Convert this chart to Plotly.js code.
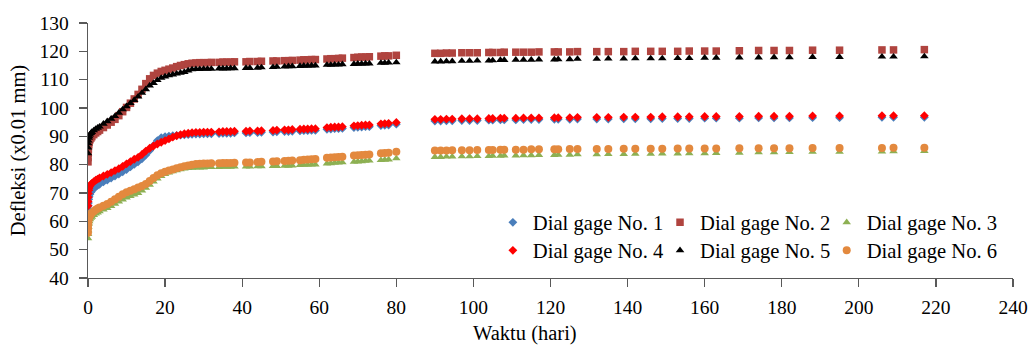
<!DOCTYPE html>
<html>
<head>
<meta charset="utf-8">
<script src="https://cdn.plot.ly/plotly-3.0.1.min.js"></script>
<style>
  html, body { margin: 0; padding: 0; background: #fff; }
  #chart { width: 1032px; height: 345px; }
</style>
</head>
<body>
<div id="chart"></div>
<script>
// Time (days)
const days = [
  0, 0.02, 0.05, 0.1, 0.2, 0.3, 0.5, 0.75, 1, 1.5, 2, 2.5, 3, 4, 5, 6, 7, 8, 9, 10, 11, 12, 13, 14, 15, 16, 17, 18, 19, 20, 21, 22, 23, 24, 25, 26,
  27, 28, 29, 30, 31, 32, 34, 35, 36, 37, 38, 41, 42, 44, 45, 48, 49, 51, 52, 53, 55, 56, 57, 58, 59, 62, 63, 64, 65, 66, 69, 70, 71, 72, 73, 76, 77, 78, 80,
  90, 91.5, 93, 94.5, 97, 99, 101, 104, 105, 107, 108, 111, 113, 115, 117, 121, 122, 125, 127, 132, 135, 139, 142, 146, 149, 153, 156, 160, 163, 169, 174, 178, 182, 188, 195, 206, 209, 217
];

const dial1 = [
  63.5, 64.5, 65.5, 66.5, 67.8, 68.7, 69.6, 70.3, 70.8, 71.6, 72.2, 72.7, 73.1, 73.9, 74.6, 75.3, 76, 76.7, 77.5, 78.3, 79.2, 80.1, 81, 82.1, 83.4, 85, 86.8, 88.5, 89.5, 89.9, 90.1, 90.2, 90.3, 90.4, 90.5, 90.6,
  90.7, 90.8, 90.8, 90.9, 90.9, 90.9, 91, 91.1, 91.1, 91.1, 91.2, 91.2, 91.3, 91.3, 91.4, 91.5, 91.6, 91.7, 91.7, 91.8, 91.9, 92, 92, 92.1, 92.1, 92.5, 92.6, 92.7, 92.7, 92.8, 93.1, 93.2, 93.3, 93.4, 93.4, 93.8, 93.9, 94, 94.3,
  95.4, 95.4, 95.5, 95.5, 95.6, 95.6, 95.6, 95.7, 95.7, 95.8, 95.8, 95.8, 95.9, 95.9, 95.9, 96, 96, 96, 96.1, 96.1, 96.1, 96.2, 96.2, 96.2, 96.3, 96.3, 96.3, 96.4, 96.4, 96.4, 96.5, 96.5, 96.5, 96.6, 96.6, 96.7, 96.7, 96.7
];

const dial2 = [
  81, 82.5, 84, 85.5, 87, 88, 88.8, 89.4, 89.9, 90.6, 91.2, 91.7, 92.2, 93.1, 94, 95, 96, 97.3, 98.7, 100.2, 101.7, 103.2, 104.8, 106.6, 108.6, 110.3, 111.5, 112.3, 112.9, 113.3, 113.7, 114.1, 114.6, 115, 115.3, 115.6,
  115.8, 115.9, 116, 116, 116, 116.1, 116.1, 116.2, 116.2, 116.2, 116.3, 116.3, 116.4, 116.4, 116.5, 116.6, 116.6, 116.7, 116.7, 116.8, 116.9, 117, 117, 117.1, 117.1, 117.3, 117.4, 117.4, 117.5, 117.6, 117.8, 117.9, 118, 118, 118.1, 118.3, 118.4, 118.4, 118.6,
  119.3, 119.3, 119.4, 119.4, 119.5, 119.5, 119.5, 119.6, 119.6, 119.6, 119.7, 119.7, 119.7, 119.7, 119.8, 119.8, 119.8, 119.8, 119.9, 119.9, 119.9, 119.9, 120, 120, 120, 120, 120.1, 120.1, 120.1, 120.2, 120.3, 120.3, 120.3, 120.4, 120.4, 120.5, 120.5, 120.6
];

const dial3 = [
  54, 55.5, 56.8, 58, 59.2, 60, 60.7, 61.2, 61.6, 62.2, 62.7, 63.1, 63.5, 64.1, 64.7, 65.4, 66.2, 67, 67.7, 68.4, 68.9, 69.4, 70, 70.8, 71.8, 72.9, 74, 75.1, 76, 76.7, 77.2, 77.6, 78, 78.3, 78.6, 78.8,
  78.9, 79, 79, 79, 79.1, 79.1, 79.1, 79.2, 79.2, 79.2, 79.3, 79.3, 79.3, 79.4, 79.4, 79.5, 79.5, 79.6, 79.6, 79.7, 79.8, 79.9, 79.9, 80, 80, 80.4, 80.5, 80.6, 80.7, 80.8, 81, 81.1, 81.2, 81.3, 81.4, 81.6, 81.7, 81.8, 82.2,
  82.7, 82.7, 82.8, 82.8, 82.9, 82.9, 83, 83, 83.1, 83.1, 83.2, 83.2, 83.3, 83.3, 83.4, 83.4, 83.5, 83.5, 83.6, 83.6, 83.7, 83.7, 83.8, 83.8, 83.9, 83.9, 84, 84, 84.1, 84.2, 84.3, 84.3, 84.4, 84.5, 84.5, 84.6, 84.7, 84.8
];

const dial4 = [
  65.5, 67, 68.5, 69.8, 71, 71.8, 72.5, 73, 73.4, 74, 74.5, 74.9, 75.3, 76, 76.6, 77.2, 77.9, 78.6, 79.4, 80.3, 81.1, 81.9, 82.6, 83.6, 84.8, 85.8, 86.6, 87.3, 87.9, 88.5, 89.1, 89.7, 90.2, 90.6, 90.9, 91.1,
  91.3, 91.4, 91.4, 91.5, 91.5, 91.5, 91.6, 91.7, 91.7, 91.7, 91.8, 91.8, 91.9, 91.9, 92, 92.1, 92.2, 92.3, 92.3, 92.4, 92.5, 92.6, 92.6, 92.7, 92.7, 93.1, 93.2, 93.3, 93.3, 93.4, 93.7, 93.8, 93.9, 94, 94, 94.4, 94.5, 94.6, 94.9,
  96, 96, 96.1, 96.1, 96.2, 96.2, 96.2, 96.3, 96.3, 96.4, 96.4, 96.4, 96.5, 96.5, 96.5, 96.6, 96.6, 96.6, 96.7, 96.7, 96.7, 96.8, 96.8, 96.8, 96.9, 96.9, 96.9, 97, 97, 97, 97.1, 97.1, 97.1, 97.2, 97.2, 97.3, 97.3, 97.3
];

const dial5 = [
  84, 86, 87.5, 88.5, 89.5, 90, 90.6, 91.1, 91.5, 92.1, 92.6, 93, 93.4, 94.4, 95.3, 96.2, 97.1, 98.3, 99.5, 100.6, 101.7, 102.8, 104, 105.3, 106.6, 107.9, 108.8, 109.8, 110.6, 111.1, 111.5, 111.8, 112.1, 112.4, 112.7, 113.2,
  113.6, 113.7, 113.7, 113.8, 113.8, 113.8, 113.9, 113.9, 113.9, 114, 114, 114.1, 114.1, 114.2, 114.3, 114.4, 114.5, 114.6, 114.7, 114.7, 114.8, 114.9, 114.9, 115, 115, 115.2, 115.2, 115.3, 115.3, 115.4, 115.5, 115.6, 115.6, 115.7, 115.7, 115.9, 115.9, 116, 116.1,
  116.4, 116.4, 116.5, 116.5, 116.6, 116.6, 116.7, 116.7, 116.8, 116.9, 116.9, 117, 117, 117, 117.1, 117.1, 117.2, 117.2, 117.3, 117.3, 117.4, 117.4, 117.5, 117.5, 117.5, 117.6, 117.6, 117.7, 117.7, 117.8, 117.8, 117.9, 117.9, 118, 118, 118.1, 118.1, 118.2
];

const dial6 = [
  56, 57.5, 58.8, 59.8, 60.8, 61.5, 62.1, 62.6, 63, 63.6, 64.1, 64.5, 64.9, 65.5, 66.1, 66.9, 67.8, 68.7, 69.6, 70.3, 70.8, 71.3, 71.9, 72.5, 73.2, 74.2, 75.3, 76.3, 77, 77.5, 77.9, 78.3, 78.7, 79.1, 79.4, 79.7,
  80, 80.2, 80.3, 80.4, 80.4, 80.5, 80.5, 80.6, 80.6, 80.6, 80.7, 80.8, 80.8, 80.9, 81, 81.1, 81.2, 81.3, 81.4, 81.5, 81.6, 81.7, 81.8, 81.9, 82, 82.4, 82.5, 82.6, 82.7, 82.8, 83.2, 83.3, 83.4, 83.5, 83.6, 84, 84.1, 84.2, 84.6,
  85, 85, 85, 85.1, 85.1, 85.1, 85.2, 85.2, 85.2, 85.3, 85.3, 85.3, 85.3, 85.4, 85.4, 85.4, 85.4, 85.5, 85.5, 85.5, 85.5, 85.6, 85.6, 85.6, 85.6, 85.7, 85.7, 85.7, 85.7, 85.8, 85.8, 85.8, 85.8, 85.9, 85.9, 85.9, 86, 86
];

const seriesNames = ['Dial gage No. 1', 'Dial gage No. 2', 'Dial gage No. 3', 'Dial gage No. 4', 'Dial gage No. 5', 'Dial gage No. 6'];
const seriesValues = [dial1, dial2, dial3, dial4, dial5, dial6];
const xTitle = 'Waktu (hari)';
const yTitle = 'Defleksi (x0.01 mm)';

const styles = [
  { symbol: 'diamond', color: '#4A7EBB', size: 6.8 },
  { symbol: 'square', color: '#B0443F', size: 7.5 },
  { symbol: 'triangle-up', color: '#8DB053', size: 7.5 },
  { symbol: 'diamond', color: '#FF0000', size: 6.8 },
  { symbol: 'triangle-up', color: '#000000', size: 7.5 },
  { symbol: 'circle', color: '#E3893E', size: 8 }
];

// legend grid: 3 columns x 2 rows (paper coordinates)
const legendCols = [0.4377, 0.6184, 0.7986];
const legendRows = [0.218, 0.108];

const FONT = '"Liberation Serif", "Times New Roman", Times, serif';
const legendIds = ['legend', 'legend2', 'legend3', 'legend4', 'legend5', 'legend6'];

const traces = seriesValues.map((vals, i) => ({
  type: 'scatter',
  mode: 'markers',
  x: days,
  y: vals,
  name: seriesNames[i],
  legend: legendIds[i],
  marker: { symbol: styles[i].symbol, color: styles[i].color, size: styles[i].size, line: { width: 0 } }
}));

const layout = {
  width: 1032,
  height: 345,
  margin: { l: 88, r: 19, t: 23, b: 67 },
  paper_bgcolor: '#fff',
  plot_bgcolor: '#fff',
  showlegend: true,
  font: { family: FONT, size: 20, color: '#000' },
  xaxis: {
    range: [0, 240],
    dtick: 20,
    tick0: 0,
    showgrid: false,
    zeroline: false,
    showline: true,
    linecolor: '#595959',
    linewidth: 1.3,
    ticks: 'outside',
    ticklen: 8,
    tickwidth: 1.3,
    tickcolor: '#595959',
    tickfont: { family: FONT, size: 19.5, color: '#000' },
    ticklabelstandoff: 3,
    automargin: false
  },
  yaxis: {
    range: [40, 130],
    dtick: 10,
    tick0: 40,
    showgrid: false,
    zeroline: false,
    showline: true,
    linecolor: '#595959',
    linewidth: 1.3,
    ticks: 'outside',
    ticklen: 8,
    tickwidth: 1.3,
    tickcolor: '#595959',
    tickfont: { family: FONT, size: 19.5, color: '#000' },
    ticklabelstandoff: 6,
    title: { text: yTitle, font: { family: FONT, size: 20.5, color: '#000' }, standoff: 8 },
    automargin: false
  },
  annotations: [{
    text: xTitle,
    xref: 'paper', yref: 'paper',
    x: 0.4724, y: -0.2157,
    xanchor: 'center', yanchor: 'middle',
    showarrow: false,
    font: { family: FONT, size: 20.5, color: '#000' }
  }]
};

legendIds.forEach((id, i) => {
  layout[id] = {
    orientation: 'h',
    xanchor: 'left',
    yanchor: 'middle',
    x: legendCols[i % 3],
    y: legendRows[Math.floor(i / 3)],
    font: { family: FONT, size: 20.6, color: '#000' },
    bgcolor: 'rgba(0,0,0,0)',
    borderwidth: 0,
    itemclick: false
  };
});

Plotly.newPlot('chart', traces, layout, { displayModeBar: false, staticPlot: true });
</script>
</body>
</html>
